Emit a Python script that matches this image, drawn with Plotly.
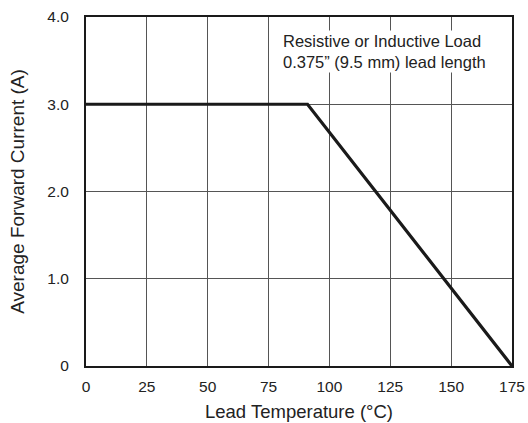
import plotly.graph_objects as go

temp = [0, 91, 175]
current = [3.0, 3.0, 0.0]
x_ticks = [0, 25, 50, 75, 100, 125, 150, 175]
y_ticks = [0, 1, 2, 3, 4]
y_tick_labels = ["0", "1.0", "2.0", "3.0", "4.0"]

fig = go.Figure()
fig.add_trace(go.Scatter(x=temp, y=current, mode="lines",
                         line=dict(color="#1a1a1a", width=3.2), showlegend=False))

fam = "Liberation Sans, Arial, sans-serif"
font = dict(family=fam, size=15.5, color="#222")

fig.update_layout(
    width=528, height=423,
    margin=dict(l=86, r=16, t=17, b=57, autoexpand=False),
    paper_bgcolor="white", plot_bgcolor="white",
    font=font,
    xaxis=dict(range=[0, 175], tickvals=x_ticks, showgrid=True, gridcolor="#555",
               gridwidth=1, zeroline=False, showline=True, linecolor="#1a1a1a",
               linewidth=2, mirror=True, ticks="", ticklabelstandoff=5,
               automargin=False),
    yaxis=dict(range=[0, 4], tickvals=y_ticks, ticktext=y_tick_labels, showgrid=True,
               gridcolor="#555", gridwidth=1, zeroline=False, showline=True,
               linecolor="#1a1a1a", linewidth=2, mirror=True, ticks="",
               ticklabelstandoff=12, automargin=False,
               title=dict(text="Average Forward Current (A)", standoff=18,
                          font=dict(family=fam, size=19, color="#222"))),
    annotations=[
        dict(x=0.458, y=0.9, xref="paper", yref="paper", xanchor="left",
             yanchor="middle", align="left", showarrow=False,
             bgcolor="white",
             text="Resistive or Inductive Load<br>0.375” (9.5 mm) lead length",
             font=dict(family=fam, size=16.5, color="#222")),
        dict(x=0.5, y=-0.13, xref="paper", yref="paper", xanchor="center",
             yanchor="middle", showarrow=False, text="Lead Temperature (°C)",
             font=dict(family=fam, size=18.5, color="#222")),
    ],
)

fig.write_html("out.html")
